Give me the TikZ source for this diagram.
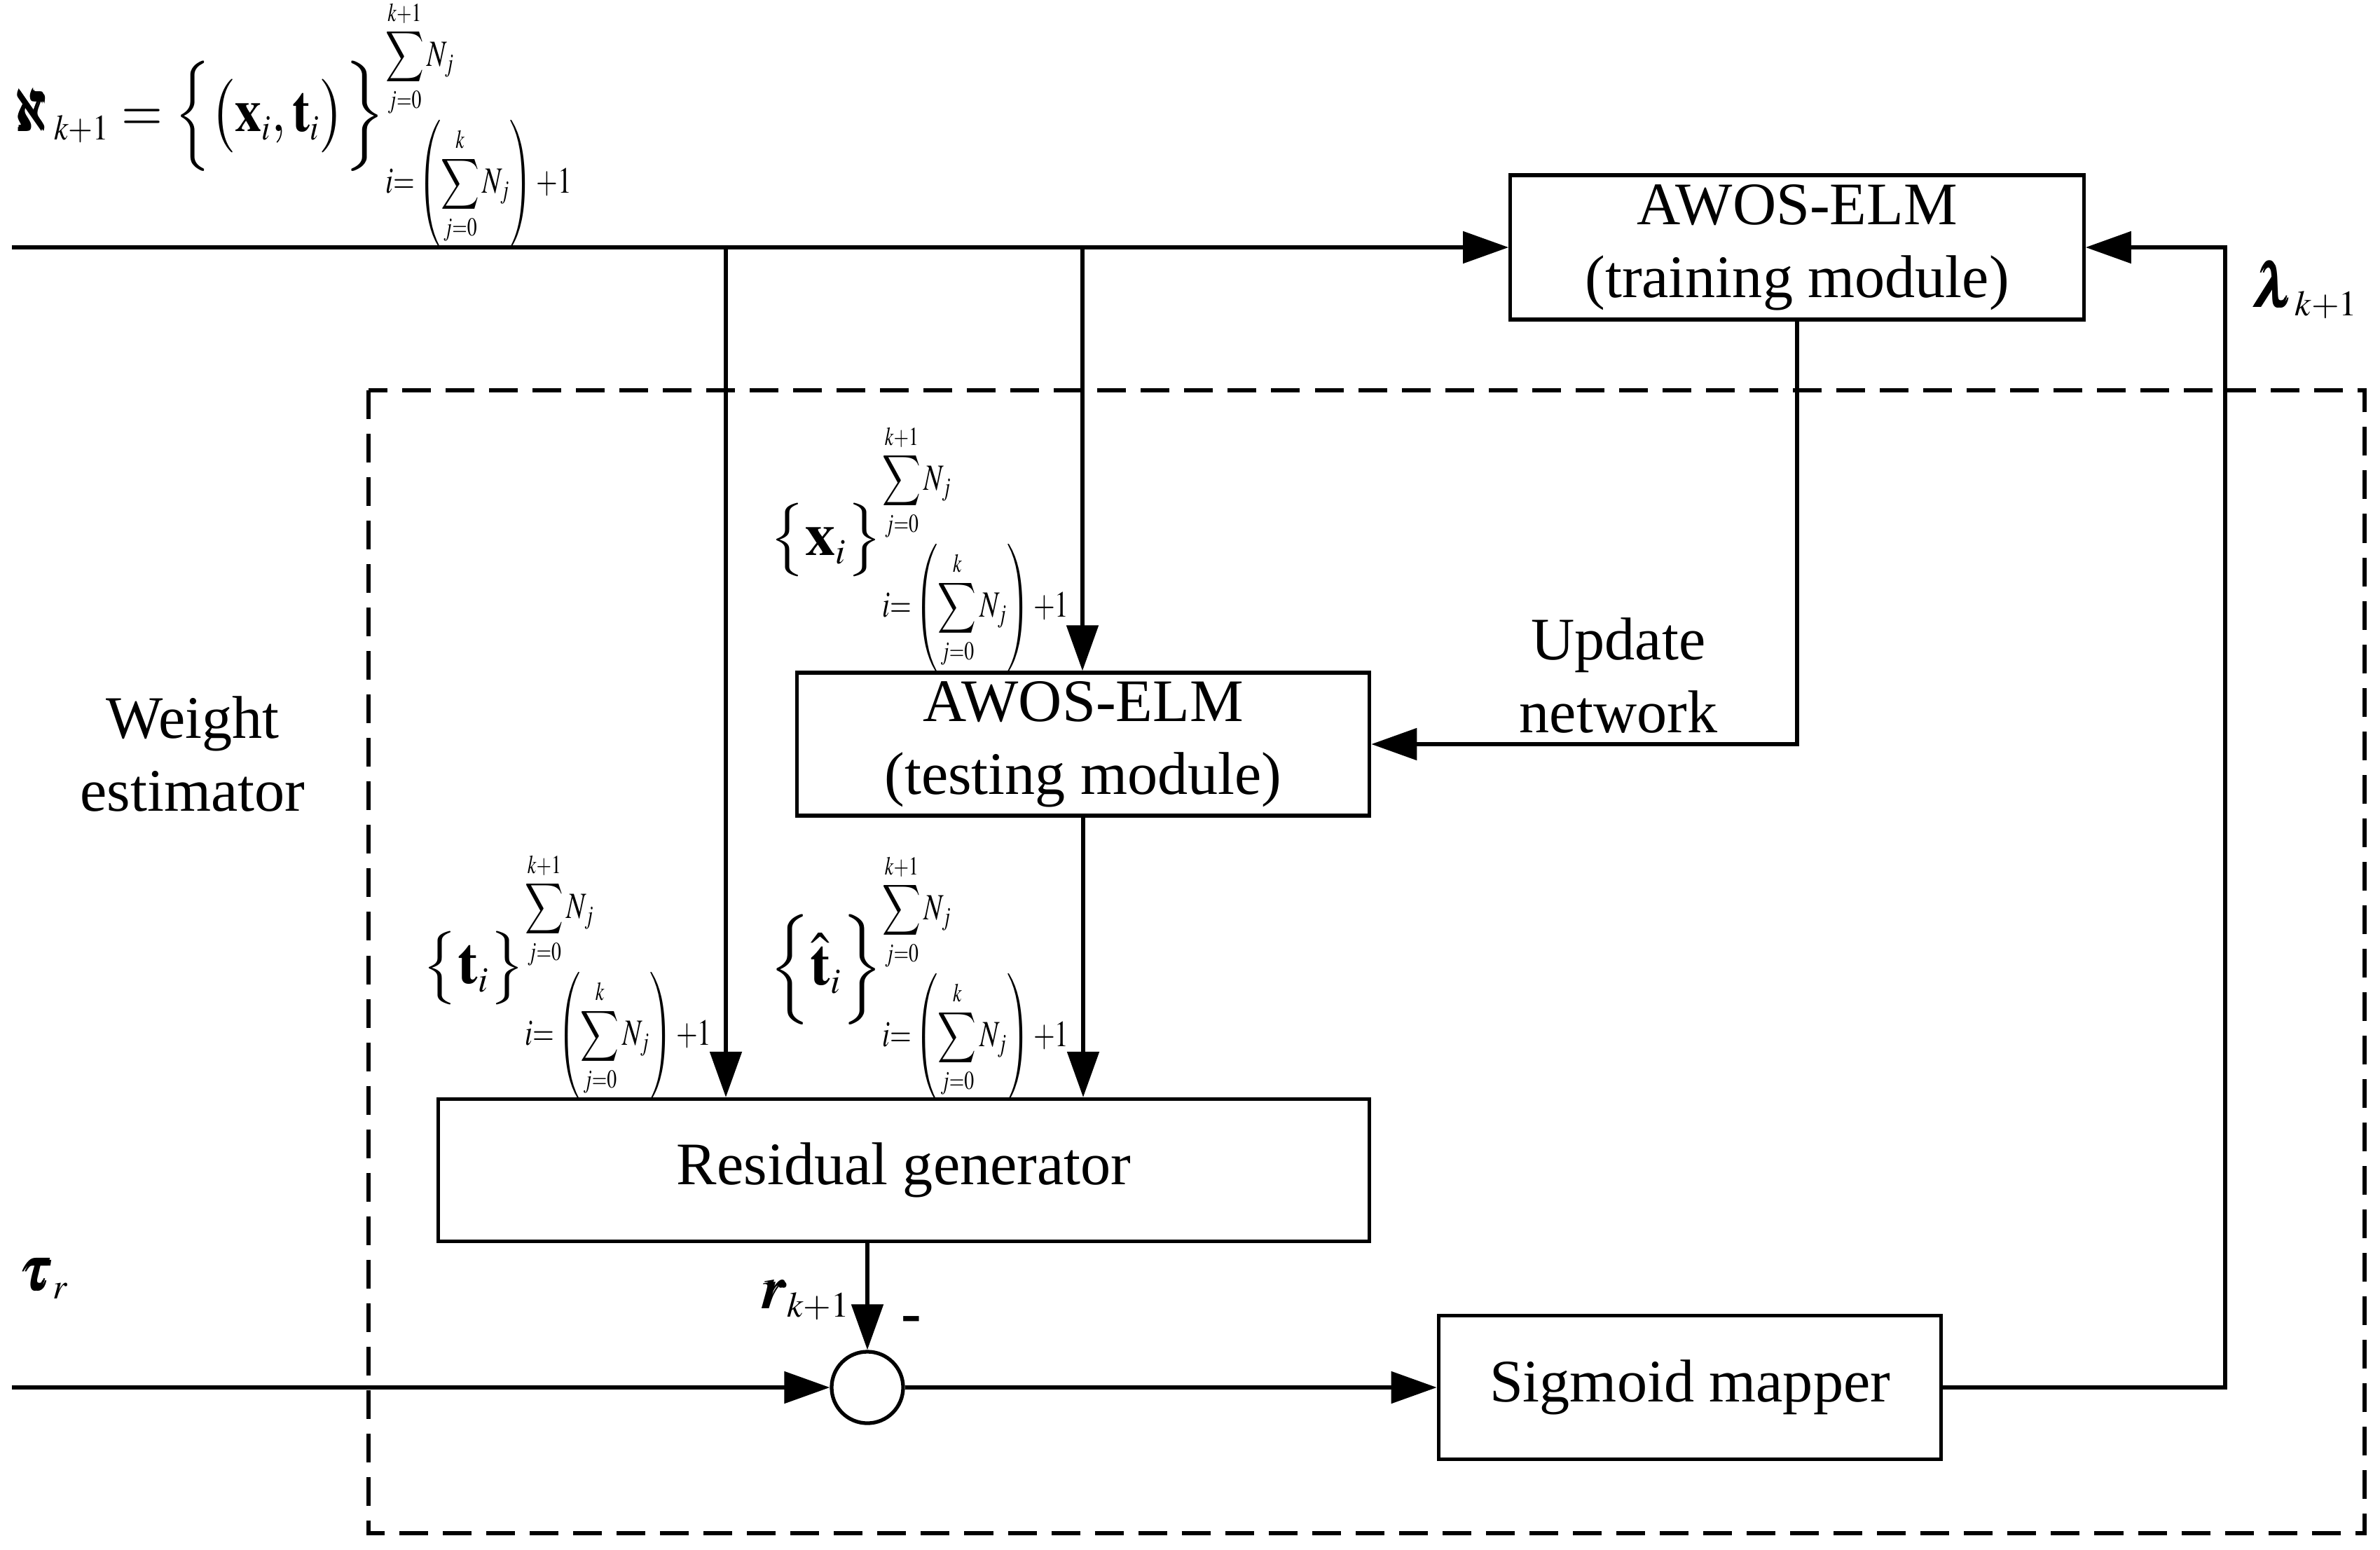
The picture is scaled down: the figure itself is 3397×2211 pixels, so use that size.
\documentclass[tikz,border=0pt]{standalone}
\usepackage{amsmath}
\usepackage{graphicx}
\usepackage{mathptmx}
\DeclareSymbolFont{largesymbols}{OMX}{lmex}{m}{n}
\usepackage[no-math]{fontspec}
\setmainfont{Liberation Serif}
\usetikzlibrary{arrows.meta,positioning}
\DeclareMathSizes{24.5}{24.5}{14.5}{10.5}
\DeclareMathSizes{15}{15}{10.5}{8}

\newcommand{\upperlim}{\raisebox{-0.1cm}[\height][\depth]{\scalebox{0.75}[1]{\mbox{\fontsize{15}{18}\selectfont$\displaystyle\sum_{j=0}^{k+1}N_j$}}}}
\newcommand{\lowerlim}{\scalebox{0.75}[1]{\mbox{\fontsize{15}{18}\selectfont$i{=}\left(\displaystyle\sum_{j=0}^{k}N_j\right){+}1$}}}

\begin{document}
\begin{tikzpicture}[x=0.01cm,y=-0.01cm,line width=1.5pt,
	every node/.style={font=\fontsize{24.5}{29.5}\selectfont},
	block/.style={draw,align=center,inner sep=0pt},
	junction/.style={draw,circle,minimum size=1.02cm,inner sep=0pt},
	arrow/.style={-{Triangle[length=0.65cm,width=0.45cm]}},
	formula/.style={inner sep=0pt}]
			\useasboundingbox (0,0) rectangle (3397,2211);
			
			% Blocks
			\node[block,minimum width=8.18cm,minimum height=2.06cm] (train) at (2565,353) {AWOS-ELM\\(training module)};
			\node[block,minimum width=8.17cm,minimum height=2.04cm] (test) at (1546,1062) {AWOS-ELM\\(testing module)};
			\node[block,minimum width=13.28cm,minimum height=2.03cm] (resid) at (1290,1670) {Residual generator};
			\node[block,minimum width=7.17cm,minimum height=2.05cm] (sigm) at (2412,1980) {Sigmoid mapper};
			\node[junction] (sum) at (1238,1980) {};
			
			% Define coordinates
			\coordinate (in1) at (17,353);
			\coordinate (in2) at (17,1980);
			\coordinate (b1) at (1036,353);
			\coordinate (b2) at (1545,353);
			\coordinate (fb) at (3176,1980);
			
			% Draw connectors
			\draw[arrow] (in1) -- (train.west);
			\draw[arrow] (b1) -- (b1 |- resid.north);
			\draw[arrow] (b2) -- (b2 |- test.north);
			\draw[arrow] (train.south) |- (test.east);
			\draw[arrow] (test.south) -- (test.south |- resid.north);
			\draw[arrow] (sum.north |- resid.south) -- (sum.north);
			\draw[arrow] (in2) -- (sum.west);
			\draw[arrow] (sum.east) -- (sigm.west);
			\draw[arrow] (sigm.east) -- (fb) |- (train.east);
			
			% Dashed frame
			\draw[dash pattern=on 0.41cm off 0.21cm] (526,557) rectangle (3375,2188);
			
			% Add labels
			\node[formula,anchor=base west] (setk) at (12,187) {\scalebox{0.88}[1]{$\pmb{\aleph}_{k+1}=\Bigl\{\bigl(\mathbf{x}_i,\mathbf{t}_i\bigr)$}$\Bigr\}^{\upperlim}_{\lowerlim}$};
			\node[formula,anchor=base east] (xset) at (1530,792) {$\bigl\{\mathbf{x}_i\bigr\}^{\upperlim}_{\lowerlim}$};
			\node[formula,anchor=base east] (tset) at (1020,1403) {$\bigl\{\mathbf{t}_i\bigr\}^{\upperlim}_{\lowerlim}$};
			\node[formula,anchor=base east] (thset) at (1530,1405) {$\Bigl\{\hat{\mathbf{t}}_i\Bigr\}^{\upperlim}_{\lowerlim}$};
			\node[align=center] (wlabel) at (275,1076) {Weight\\estimator};
			\node[align=center] (ulabel) at (2310,964) {Update\\network};
			\node[formula,anchor=base west] (tau) at (28,1841) {$\pmb{\tau}_r$};
			\node[formula,anchor=base west] (lam) at (3215,438) {$\pmb{\lambda}_{k+1}$};
			\node[formula,anchor=base west] (res) at (1085,1867) {$\pmb{r}_{k+1}$};
			\node (minus) at (1301,1890) {\textbf{-}};
		\end{tikzpicture}
\end{document}
